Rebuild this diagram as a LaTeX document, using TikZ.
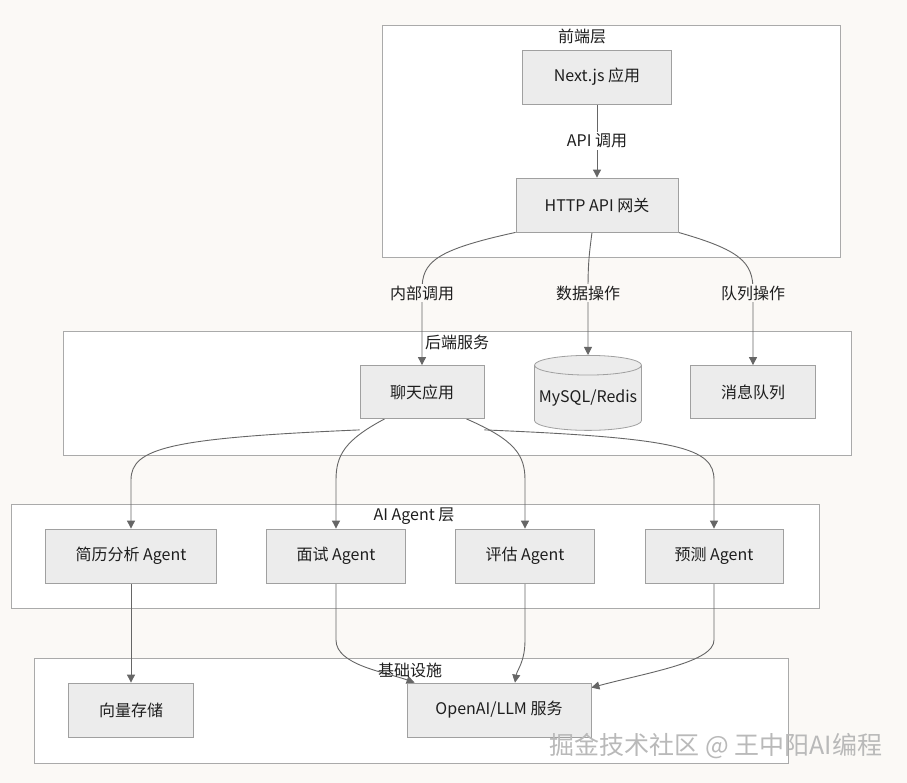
\documentclass[tikz,border=0pt]{standalone}
\usepackage{fontspec}
\setmainfont{Noto Sans CJK SC}
\usetikzlibrary{arrows.meta,shapes.geometric}
\definecolor{pagebg}{RGB}{251,249,246}
\definecolor{boxfill}{RGB}{236,236,236}
\definecolor{boxline}{RGB}{160,160,160}
\definecolor{grpline}{RGB}{170,170,170}
\definecolor{edgeline}{RGB}{102,102,102}
\definecolor{txt}{RGB}{30,30,30}
\pgfdeclarelayer{grp}
\pgfdeclarelayer{edges}
\pgfsetlayers{grp,edges,main}
\begin{document}
\begin{tikzpicture}[x=1pt,y=-1pt,
    font=\fontsize{16}{19}\selectfont, text=txt,
    box/.style={draw=boxline, fill=boxfill, line width=0.8pt, inner sep=0pt},
    grp/.style={draw=grpline, fill=white, line width=0.9pt},
    lbl/.style={fill=pagebg, inner sep=2pt},
    flow/.style={draw=edgeline, line width=0.9pt, -{Triangle[length=8pt,width=8pt]}}]
    \useasboundingbox (0,0) rectangle (907,783);
    % groups
    \begin{pgfonlayer}{grp}
        \fill[pagebg] (0,0) rectangle (907,783);
        \draw[grp] (382,25) rectangle (840,257);
        \draw[grp] (63,331) rectangle (851,455);
        \draw[grp] (11,504) rectangle (819,608);
        \draw[grp] (34,658) rectangle (788,763);
    \end{pgfonlayer}
    \node (tfront) at (582,36) {前端层};
    \node (tback) at (457,342) {后端服务};
    \node (tagent) at (414,516) {AI Agent 层};
    \node (tbase) at (410,670) {基础设施};
    % nodes
    \node (next) [box, minimum width=149pt, minimum height=54pt] at (597,77) {Next.js 应用};
    \node (gw) [box, minimum width=162pt, minimum height=54pt] at (597,205) {HTTP API 网关};
    \node (chat) [box, minimum width=124pt, minimum height=53pt] at (422,392) {聊天应用};
    \node (db) [cylinder, shape border rotate=90, aspect=0.2, draw=boxline, fill=boxfill,
        line width=0.8pt, inner sep=0pt, minimum width=107pt, minimum height=75pt] at (588,398) {MySQL/Redis};
    \node (mq) [box, minimum width=125pt, minimum height=53pt] at (753,392) {消息队列};
    \node (resume) [box, minimum width=171pt, minimum height=54pt] at (131,556) {简历分析 Agent};
    \node (interview) [box, minimum width=139pt, minimum height=54pt] at (336,556) {面试 Agent};
    \node (evalag) [box, minimum width=139pt, minimum height=54pt] at (525,556) {评估 Agent};
    \node (predict) [box, minimum width=138pt, minimum height=54pt] at (714,556) {预测 Agent};
    \node (vec) [box, minimum width=125pt, minimum height=54pt] at (131,710) {向量存储};
    \node (llm) [box, minimum width=184pt, minimum height=54pt] at (499,710) {OpenAI/LLM 服务};
    \node (mark) [text=gray!55, font=\fontsize{25}{28}\selectfont] at (716,746) {掘金技术社区 @ 王中阳AI编程};
    % connectors
    \begin{pgfonlayer}{edges}
        \draw[flow] (next) -- (gw) node[midway, lbl, fill=white] {API 调用};
        \draw[flow] (gw.south west) .. controls (435,250) and (422,262) .. (422,290) -- (chat.north);
        \node[lbl] at (422,293) {内部调用};
        \draw[flow] ([xshift=-5pt]gw.south) .. controls (589,255) and (588,265) .. (588,290) -- (db.north);
        \node[lbl] at (588,293) {数据操作};
        \draw[flow] (gw.south east) .. controls (740,250) and (753,262) .. (753,290) -- (mq.north);
        \node[lbl] at (753,293) {队列操作};
        \draw[flow] ([yshift=-11pt]chat.south west) .. controls (170,438) and (131,448) .. (131,480) -- (resume.north);
        \draw[flow] ([xshift=25pt]chat.south west) .. controls (345,440) and (336,455) .. (336,480) -- (interview.north);
        \draw[flow] ([xshift=-18pt]chat.south east) .. controls (515,440) and (525,455) .. (525,480) -- (evalag.north);
        \draw[flow] ([yshift=-11pt]chat.south east) .. controls (680,438) and (714,448) .. (714,480) -- (predict.north);
        \draw[flow] (resume) -- (vec);
        \draw[flow] (interview.south) -- (336,640) .. controls (336,665) and (385,672) .. ([xshift=8pt]llm.north west);
        \draw[flow] (evalag.south) -- (525,640) .. controls (525,662) and (517,670) .. ([xshift=16pt]llm.north);
        \draw[flow] (predict.south) -- (714,640) .. controls (714,662) and (650,672) .. ([yshift=-5pt]llm.north east);
    \end{pgfonlayer}
\end{tikzpicture}
\end{document}
